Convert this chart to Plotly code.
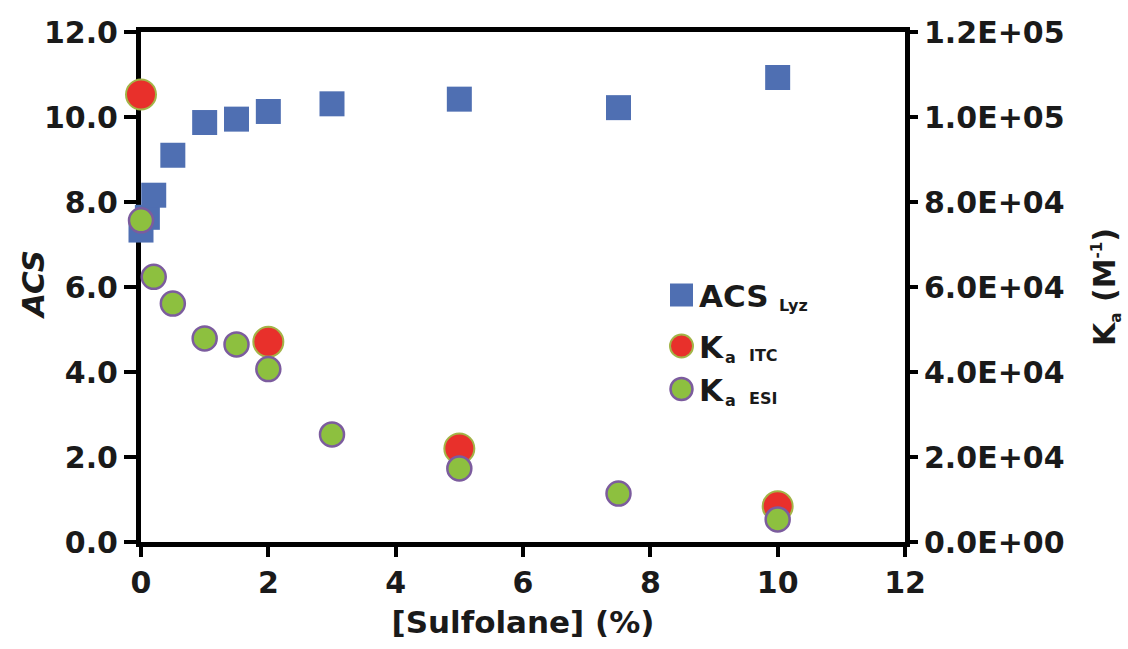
import plotly.graph_objects as go

# Sulfolane concentration (%) and measured quantities
acs_x = [0, 0.1, 0.2, 0.5, 1, 1.5, 2, 3, 5, 7.5, 10]
acs_lyz = [7.34, 7.64, 8.16, 9.10, 9.87, 9.95, 10.13, 10.31, 10.42, 10.22, 10.93]

itc_x = [0, 2, 5, 10]
ka_itc = [105300, 47100, 22000, 8400]

esi_x = [0, 0.2, 0.5, 1, 1.5, 2, 3, 5, 7.5, 10]
ka_esi = [75700, 62400, 56100, 47900, 46500, 40700, 25300, 17300, 11400, 5300]

left_ticks = [0, 2, 4, 6, 8, 10, 12]
right_tickvals = [0, 20000, 40000, 60000, 80000, 100000, 120000]
right_ticktext = ["0.0E+00", "2.0E+04", "4.0E+04", "6.0E+04", "8.0E+04", "1.0E+05", "1.2E+05"]

FONT = "DejaVu Sans"
INK = "#1a1a1a"
BLUE = "#4F6FB2"
RED = "#E8302B"
RED_EDGE = "#A3B447"
GREEN = "#8DC03F"
GREEN_EDGE = "#7C5C9E"

fig = go.Figure()

fig.add_trace(go.Scatter(
    x=acs_x, y=acs_lyz, mode="markers", name="ACS Lyz",
    marker=dict(symbol="square", size=25, color=BLUE, line=dict(width=0)),
    cliponaxis=False, showlegend=False,
))
fig.add_trace(go.Scatter(
    x=itc_x, y=ka_itc, mode="markers", name="Ka ITC", yaxis="y2",
    marker=dict(symbol="circle", size=30, color=RED, line=dict(width=2, color=RED_EDGE)),
    cliponaxis=False, showlegend=False,
))
fig.add_trace(go.Scatter(
    x=esi_x, y=ka_esi, mode="markers", name="Ka ESI", yaxis="y2",
    marker=dict(symbol="circle", size=24, color=GREEN, line=dict(width=2.5, color=GREEN_EDGE)),
    cliponaxis=False, showlegend=False,
))

axis_common = dict(
    showline=True, linecolor="black", linewidth=5,
    ticks="outside", tickcolor="black", tickwidth=4,
    showgrid=False, zeroline=False, layer="below traces", automargin=False,
    tickfont=dict(family=FONT, size=30, color=INK, weight="bold"),
)

fig.update_layout(
    template="none",
    width=1128, height=649,
    margin=dict(l=141, r=223, t=32, b=107, autoexpand=False),
    paper_bgcolor="white", plot_bgcolor="white",
    xaxis=dict(
        range=[0, 12], tickvals=[0, 2, 4, 6, 8, 10, 12], ticklen=10,
        mirror=True,
        title=dict(text="[Sulfolane] (%)", standoff=14,
                   font=dict(family=FONT, size=31, color=INK, weight="bold")),
        **axis_common,
    ),
    yaxis=dict(
        range=[0, 12], tickvals=left_ticks, tickformat=".1f", ticklen=12,
        **axis_common,
    ),
    yaxis2=dict(
        range=[0, 120000], overlaying="y", side="right",
        tickvals=right_tickvals, ticktext=right_ticktext, ticklen=8,
        title=dict(text="K<sub><span style='font-size:15px'>a</span></sub> (M<sup><span style='font-size:15px'>-1</span></sup>)",
                   standoff=32,
                   font=dict(family=FONT, size=30, color=INK, weight="bold")),
        **axis_common,
    ),
)

# Left axis title placed beside the tick labels
fig.add_annotation(
    x=(33 - 141) / 764, y=(542 - 285) / 510, xref="paper", yref="paper",
    xanchor="center", yanchor="middle", textangle=-90, showarrow=False,
    text="<i>ACS</i>", font=dict(family=FONT, size=31, color=INK, weight="bold"),
)

# Legend drawn as shapes and labels inside the plot area
def px_to_paper(px, py):
    return (px - 141) / 764, (542 - py) / 510

def label(px, py, text, size):
    x, y = px_to_paper(px, py)
    fig.add_annotation(
        x=x, y=y, xref="paper", yref="paper", xanchor="left", yanchor="middle",
        text=text, showarrow=False,
        font=dict(family=FONT, size=size, color=INK, weight="bold"),
    )

legend_rows = [
    ("square", BLUE, None, 0, 295, 23, "ACS", None, "Lyz"),
    ("circle", RED, RED_EDGE, 2, 346, 23, "K", "a", "ITC"),
    ("circle", GREEN, GREEN_EDGE, 2.5, 389, 22, "K", "a", "ESI"),
]
for sym, fill, edge, lw, cy, d, main, sub_a, sub in legend_rows:
    xa, ya = px_to_paper(681.5, cy)
    fig.add_shape(
        type="rect" if sym == "square" else "circle",
        xref="paper", yref="paper", xsizemode="pixel", ysizemode="pixel",
        xanchor=xa, yanchor=ya, x0=-d / 2, x1=d / 2, y0=-d / 2, y1=d / 2,
        fillcolor=fill, line=dict(width=lw, color=edge if edge else fill),
    )
    label(697, cy + 1, main, 31)
    if sub_a is None:
        label(777, cy + 10, sub, 16)
    else:
        label(723, cy + 11, sub_a, 16)
        label(747, cy + 9, sub, 16)

fig.write_html("out.html")
